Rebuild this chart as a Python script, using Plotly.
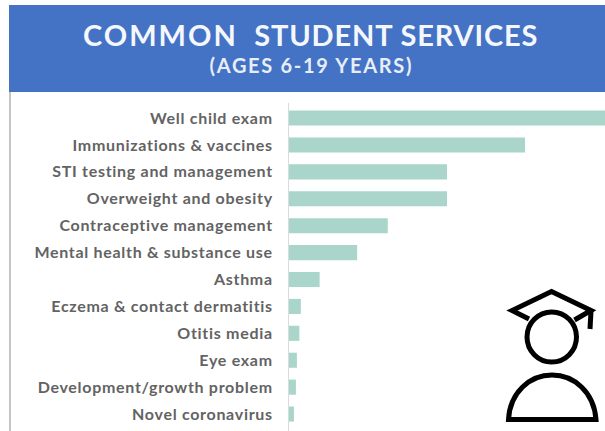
import plotly.graph_objects as go

W, H = 605, 431

services = [
    "Well child exam", "Immunizations & vaccines", "STI testing and management",
    "Overweight and obesity", "Contraceptive management", "Mental health & substance use",
    "Asthma", "Eczema & contact dermatitis", "Otitis media", "Eye exam",
    "Development/growth problem", "Novel coronavirus",
]
share = [32, 23.9, 16, 16, 10, 6.9, 3.1, 1.2, 1.05, 0.8, 0.7, 0.5]

HEADER_BLUE = "#4472C4"
BAR_TEAL = "#A9D5CA"
LABEL_GREY = "#636363"
RULE_GREY = "#D8DCDB"


def px(x):
    return x / W


def py(y):
    return 1 - y / H


def polyline(points, close=False):
    path = "M " + " L ".join(f"{px(a):.5f},{py(b):.5f}" for a, b in points)
    return path + " Z" if close else path


fig = go.Figure(go.Bar(
    x=share, y=services, orientation="h",
    marker=dict(color=BAR_TEAL, line=dict(width=0)),
    hoverinfo="skip",
))

icon = dict(xref="paper", yref="paper", line=dict(color="#000000", width=5), layer="above")
cap = polyline([(529, 319), (512, 310.5), (551.5, 291.5), (591, 310.5), (574.5, 320)])
tassel = polyline([(591, 311), (590, 329)])
body = (
    f"M {px(508.5):.5f},{py(419.5):.5f} "
    f"C {px(510):.5f},{py(392):.5f} {px(530):.5f},{py(375):.5f} {px(552):.5f},{py(375):.5f} "
    f"C {px(574):.5f},{py(375):.5f} {px(594):.5f},{py(392):.5f} {px(596):.5f},{py(419.5):.5f} Z"
)

shapes = [
    # page header band and the thin rule down its left side
    dict(type="rect", xref="paper", yref="paper", x0=px(9), x1=1, y0=py(92), y1=py(5),
         fillcolor=HEADER_BLUE, line=dict(width=0), layer="below"),
    dict(type="line", xref="paper", yref="paper", x0=px(10), x1=px(10), y0=0, y1=py(92),
         line=dict(color="#C4C4C4", width=2), layer="below"),
    # graduate icon
    dict(type="path", path=cap, **icon),
    dict(type="path", path=tassel, **icon),
    dict(type="circle", x0=px(527), x1=px(576.5), y0=py(362), y1=py(312), **icon),
    dict(type="path", path=body, **icon),
]


def heading(text, x, y, size, colour, bold=True):
    return dict(text=f"<b>{text}</b>" if bold else text, xref="paper", yref="paper",
                x=px(x), y=py(y), xanchor="center", yanchor="middle", showarrow=False,
                font=dict(family="Lato", size=size, color=colour))


annotations = [
    heading("COMMON", 160, 35, 29, "#F4F8FC"),
    heading("STUDENT SERVICES", 397, 35, 29, "#F4F8FC"),
    heading("(AGES 6-19 YEARS)", 311.5, 65, 20, "#E6EEF8"),
]

fig.update_layout(
    width=W, height=H, autosize=False,
    margin=dict(l=0, r=0, t=0, b=0),
    paper_bgcolor="#FFFFFF", plot_bgcolor="#FFFFFF",
    bargap=0.44, showlegend=False,
    shapes=shapes, annotations=annotations,
    xaxis=dict(domain=[px(289), 1], range=[0, 32], visible=False),
    yaxis=dict(
        domain=[0, py(103)], range=[11.63, -0.56], type="category",
        categoryorder="array", categoryarray=services,
        showline=True, linecolor=RULE_GREY, linewidth=1, showgrid=False,
        ticks="outside", ticklen=12, tickcolor="rgba(0,0,0,0)",
        tickfont=dict(family="Lato", size=16, weight="bold", color=LABEL_GREY),
    ),
)

# letter tracking for the heading and category labels
tracking = """
var heads = document.querySelectorAll('.annotation-text');
var spacing = ['2px', '0.85px', '1.7px'];
heads.forEach(function (t, i) { t.style.letterSpacing = spacing[i]; });
document.querySelectorAll('.ytick text').forEach(function (t) { t.style.letterSpacing = '0.7px'; });
"""
fig.write_html("out.html", post_script=tracking)
